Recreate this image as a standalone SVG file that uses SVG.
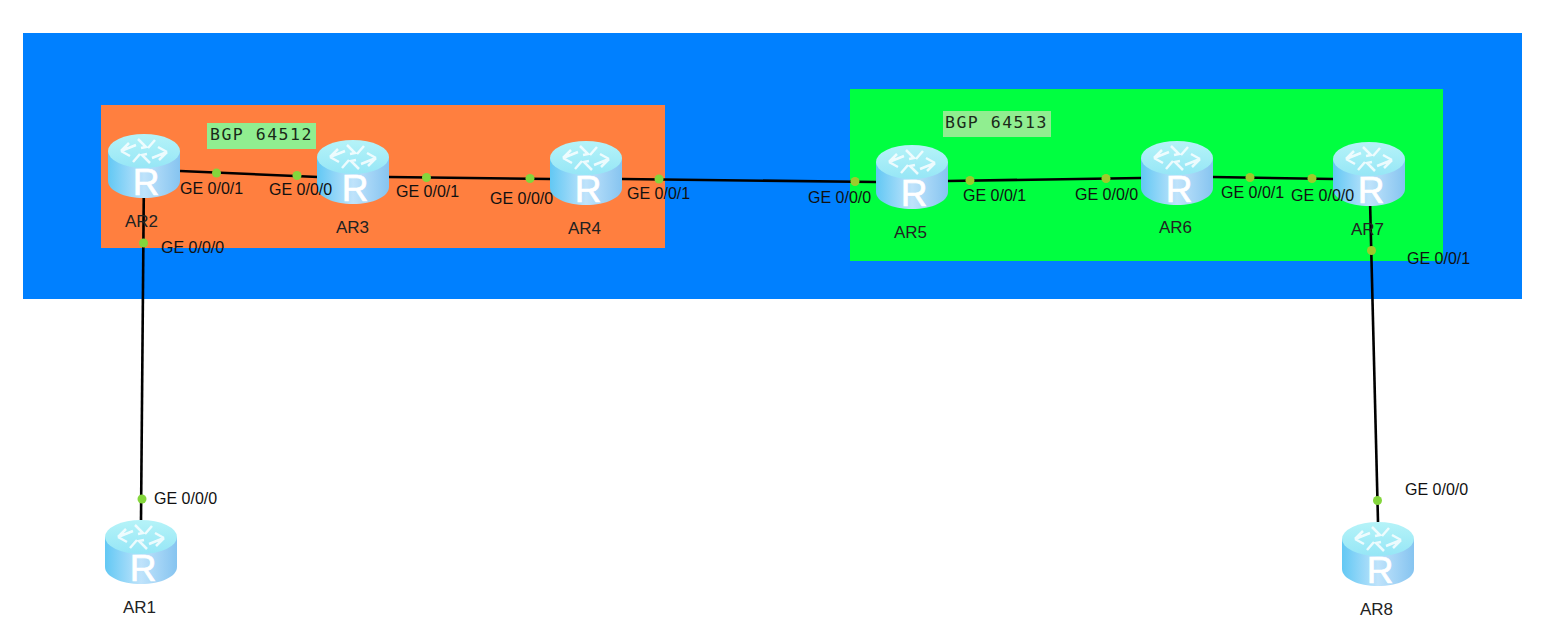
<svg xmlns="http://www.w3.org/2000/svg" width="1542" height="624" viewBox="0 0 1542 624">
<style>
.lbl{font-family:"Liberation Sans",Arial,sans-serif;font-size:16px;fill:#111}
.ar{font-family:"Liberation Sans",Arial,sans-serif;font-size:17px;fill:#222}
.bgp{font-family:"DejaVu Sans Mono","Liberation Mono",monospace;font-size:16.500px;letter-spacing:1.500px;fill:#1a2a1a}
.r{font-family:"Liberation Sans",Arial,sans-serif;font-size:37px;fill:#fff;stroke:#fff;stroke-width:.7;text-anchor:middle}
.link{stroke:#000;stroke-width:2.6;fill:none}
.dot{fill:#84d63c}
.dot2{fill:#9ccb2c}
.arrow{stroke:#fff;stroke-width:2.500;fill:none;opacity:.8}
</style>
<defs>
<linearGradient id="body" x1="0" y1="0" x2="1" y2="0">
<stop offset="0" stop-color="#62c8f4"/><stop offset=".5" stop-color="#bfe3fb"/><stop offset="1" stop-color="#86c4f0"/>
</linearGradient>
<linearGradient id="top" x1="0" y1="0" x2="0" y2="1">
<stop offset="0" stop-color="#b5f3f8"/><stop offset="1" stop-color="#96e6f6"/>
</linearGradient>
<g id="router">
<path d="M0 17V47C0 56.500 16 64 36 64S72 56.500 72 47V17Z" fill="url(#body)"/>
<ellipse cx="36" cy="17" rx="36" ry="17" fill="url(#top)"/>
<path class="arrow" d="M13 17 L28 11 M13 17 L21 9 M13 17 L22 22 M59 18 L44 24 M59 18 L51 26 M59 18 L50 13 M30 5 L38 13 L33 14 M42 29 L34 21 L39 20 M47 6 L40 14 M25 28 L32 20"/>
</g>
</defs>
<rect x="23" y="33" width="1499" height="266" fill="#0080ff"/>
<rect x="101" y="105" width="564" height="143" fill="#ff7f3f"/>
<rect x="850" y="89" width="593" height="172" fill="#00ff40"/>
<g id="connectors">
<path class="link" d="M144 170L141 520"/>
<path class="link" d="M180 171L318 177"/>
<path class="link" d="M389 177L551 179"/>
<path class="link" d="M622 179L876 182"/>
<path class="link" d="M947 181L1141 178"/>
<path class="link" d="M1213 177L1333 179"/>
<path class="link" d="M1370 200L1378 522"/>
<circle class="dot" cx="143.500" cy="243" r="4.500"/>
<circle class="dot" cx="142" cy="499" r="4.500"/>
<circle class="dot" cx="216.500" cy="173" r="4.500"/>
<circle class="dot" cx="297" cy="175.500" r="4.500"/>
<circle class="dot" cx="426.500" cy="177.500" r="4.500"/>
<circle class="dot" cx="530" cy="178.500" r="4.500"/>
<circle class="dot" cx="659" cy="179" r="4.500"/>
<circle class="dot2" cx="855" cy="181.500" r="4.500"/>
<circle class="dot2" cx="970" cy="180.500" r="4.500"/>
<circle class="dot2" cx="1106" cy="178.500" r="4.500"/>
<circle class="dot2" cx="1250" cy="177.500" r="4.500"/>
<circle class="dot2" cx="1312" cy="178.500" r="4.500"/>
<circle class="dot2" cx="1371.500" cy="250.500" r="4.500"/>
<circle class="dot" cx="1377.500" cy="500.500" r="4.500"/>
</g>
<g id="AR1"><use href="#router" x="105" y="520"/><text class="r" x="143" y="581">R</text><text class="ar" x="123" y="613">AR1</text></g>
<g id="AR2"><use href="#router" x="108" y="134"/><text class="r" x="146" y="195">R</text><text class="ar" x="125" y="227">AR2</text></g>
<g id="AR3"><use href="#router" x="317" y="140"/><text class="r" x="355" y="201">R</text><text class="ar" x="336" y="233">AR3</text></g>
<g id="AR4"><use href="#router" x="550" y="141"/><text class="r" x="588" y="202">R</text><text class="ar" x="568" y="234">AR4</text></g>
<g id="AR5"><use href="#router" x="876" y="145"/><text class="r" x="914" y="206">R</text><text class="ar" x="894" y="238">AR5</text></g>
<g id="AR6"><use href="#router" x="1141" y="141"/><text class="r" x="1179" y="202">R</text><text class="ar" x="1159" y="233">AR6</text></g>
<g id="AR7"><use href="#router" x="1333" y="142"/><text class="r" x="1371" y="203">R</text><text class="ar" x="1351" y="235">AR7</text></g>
<g id="AR8"><use href="#router" x="1342" y="522"/><text class="r" x="1380" y="583">R</text><text class="ar" x="1360" y="615">AR8</text></g>
<g id="labels">
<rect x="207" y="123" width="109" height="26" fill="#90ee90"/>
<text class="bgp" x="210" y="140">BGP 64512</text>
<rect x="943" y="111" width="108" height="26" fill="#90ee90"/>
<text class="bgp" x="945" y="128">BGP 64513</text>
<text class="lbl" x="161" y="253">GE 0/0/0</text>
<text class="lbl" x="154" y="504">GE 0/0/0</text>
<text class="lbl" x="180" y="194">GE 0/0/1</text>
<text class="lbl" x="269" y="195">GE 0/0/0</text>
<text class="lbl" x="396" y="197">GE 0/0/1</text>
<text class="lbl" x="490" y="204">GE 0/0/0</text>
<text class="lbl" x="627" y="199">GE 0/0/1</text>
<text class="lbl" x="808" y="203">GE 0/0/0</text>
<text class="lbl" x="963" y="201">GE 0/0/1</text>
<text class="lbl" x="1075" y="200">GE 0/0/0</text>
<text class="lbl" x="1221" y="198">GE 0/0/1</text>
<text class="lbl" x="1291" y="201">GE 0/0/0</text>
<text class="lbl" x="1407" y="264">GE 0/0/1</text>
<text class="lbl" x="1405" y="495">GE 0/0/0</text>
</g>
</svg>
